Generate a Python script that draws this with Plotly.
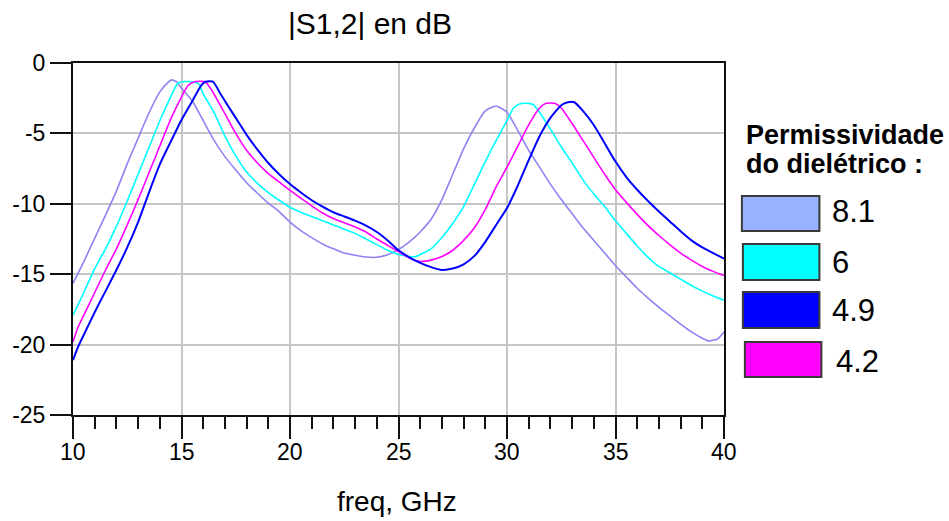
import plotly.graph_objects as go

# ---------------- data ----------------
freq_81 = [10, 10.5, 11, 11.5, 12, 12.5, 13, 13.5, 14, 14.3, 14.55, 14.8, 15, 15.5, 16, 16.5, 17, 17.5,
           18, 18.5, 19, 19.5, 20, 20.5, 21, 21.5, 22, 22.5, 23, 23.5, 24, 24.5, 25, 25.5, 26, 26.5,
           27, 27.5, 28, 28.5, 29, 29.5, 30, 30.5, 31, 31.5, 32, 32.5, 33, 33.5, 34, 34.5, 35, 35.5,
           36, 36.5, 37, 37.5, 38, 38.5, 39, 39.3, 39.7, 40]
s12_81 = [-15.65, -14.1, -12.45, -10.8, -9.1, -7.15, -5.35, -3.55, -2.05, -1.5, -1.2, -1.35, -1.8, -2.7,
          -4.1, -5.5, -6.65, -7.6, -8.5, -9.25, -9.95, -10.55, -11.3, -11.9, -12.4, -12.85, -13.2, -13.5,
          -13.65, -13.78, -13.8, -13.62, -13.25, -12.7, -12.0, -11.1, -9.7, -7.9, -6.1, -4.6, -3.4, -3.05,
          -3.5, -4.8, -6.2, -7.4, -8.6, -9.7, -10.7, -11.7, -12.6, -13.5, -14.4, -15.2, -16.0, -16.7,
          -17.35, -17.95, -18.55, -19.1, -19.55, -19.75, -19.6, -19.1]

freq_6 = [10, 10.5, 11, 11.5, 12, 12.5, 13, 13.5, 14, 14.5, 14.8, 15, 15.5, 15.8, 16, 16.5, 17, 17.5, 18,
          18.5, 19, 19.5, 20, 20.5, 21, 21.5, 22, 22.5, 23, 23.5, 24, 24.5, 25, 25.5, 25.8, 26, 26.5, 27,
          27.5, 28, 28.5, 29, 29.5, 30, 30.3, 30.6, 31, 31.2, 31.5, 32, 32.5, 33, 33.5, 34, 34.5, 35, 35.5,
          36, 36.5, 37, 37.5, 38, 38.5, 39, 39.5, 40]
s12_6 = [-17.9, -16.3, -14.6, -13.2, -11.6, -9.8, -7.9, -6.0, -4.1, -2.4, -1.5, -1.33, -1.33, -1.5, -2.2,
         -3.5, -5.2, -6.6, -7.75, -8.55, -9.2, -9.75, -10.25, -10.6, -10.9, -11.2, -11.5, -11.8, -12.1,
         -12.5, -12.9, -13.3, -13.6, -13.75, -13.75, -13.6, -13.2, -12.4, -11.4, -10.2, -8.6, -7.0, -5.5,
         -4.1, -3.2, -2.9, -2.87, -2.95, -3.5, -4.7, -5.95, -7.1, -8.3, -9.3, -10.2, -11.2, -12.1, -13.0,
         -13.8, -14.45, -14.9, -15.35, -15.8, -16.2, -16.55, -16.85]

freq_42 = [10, 10.25, 10.5, 11, 11.5, 12, 12.5, 13, 13.5, 14, 14.5, 15, 15.3, 15.6, 16.1, 16.4, 17, 17.5,
           18, 18.5, 19, 19.5, 20, 20.5, 21, 21.5, 22, 22.5, 23, 23.5, 24, 24.5, 25, 25.5, 26, 26.5, 27,
           27.5, 28, 28.5, 29, 29.5, 30, 30.5, 31, 31.5, 31.8, 32.2, 32.5, 33, 33.5, 34, 34.5, 35, 35.5,
           36, 36.5, 37, 37.5, 38, 38.5, 39, 39.5, 40]
s12_42 = [-19.8, -18.7, -17.9, -16.3, -14.7, -13.2, -11.5, -9.7, -7.8, -5.9, -4.0, -2.4, -1.6, -1.33,
          -1.33, -1.95, -3.6, -5.0, -6.2, -7.1, -7.85, -8.45, -9.05, -9.6, -10.15, -10.65, -11.05, -11.35,
          -11.65, -12.0, -12.5, -12.95, -13.4, -13.85, -14.1, -14.0, -13.75, -13.3, -12.6, -11.7, -10.4,
          -8.8, -7.4, -5.9, -4.4, -3.2, -2.86, -2.86, -3.2, -4.3, -5.5, -6.7, -7.9, -9.0, -9.9, -10.75,
          -11.55, -12.25, -12.9, -13.5, -14.0, -14.45, -14.8, -15.1]

freq_49 = [10, 10.25, 10.5, 11, 11.5, 12, 12.5, 13, 13.5, 14, 14.5, 15, 15.5, 15.9, 16.1, 16.45, 16.8, 17,
           17.5, 18, 18.5, 19, 19.5, 20, 20.5, 21, 21.5, 22, 22.5, 23, 23.5, 24, 24.5, 25, 25.5, 26, 26.5,
           27, 27.5, 28, 28.5, 29, 29.5, 30, 30.5, 31, 31.5, 32, 32.5, 32.8, 33.1, 33.5, 34, 34.5, 35,
           35.5, 36, 36.5, 37, 37.5, 38, 38.5, 39, 39.5, 40]
s12_49 = [-21.1, -20.1, -19.3, -17.7, -16.2, -14.7, -13.1, -11.3, -9.2, -7.2, -5.6, -4.05, -2.7, -1.6,
          -1.33, -1.33, -2.2, -2.7, -3.9, -5.1, -6.15, -7.1, -7.9, -8.6, -9.2, -9.75, -10.2, -10.6,
          -10.9, -11.2, -11.55, -12.0, -12.6, -13.3, -13.8, -14.2, -14.5, -14.7, -14.6, -14.3, -13.7,
          -12.7, -11.5, -10.3, -8.7, -6.9, -5.2, -3.9, -3.0, -2.79, -2.79, -3.4, -4.4, -5.7, -7.0, -8.1,
          -9.0, -9.8, -10.55, -11.25, -11.95, -12.6, -13.1, -13.5, -13.9]

series_names = ["8.1", "6", "4.9", "4.2"]
x_ticks = [10, 15, 20, 25, 30, 35, 40]
x_ticktext = ["10", "15", "20", "25", "30", "35", "40"]
y_ticks = [-25, -20, -15, -10, -5, 0]
y_ticktext = ["-25", "-20", "-15", "-10", "-5", "0"]

# ---------------- styles ----------------
line_colors = {"8.1": "#8c84f2", "6": "#00ffff", "4.9": "#0000ff", "4.2": "#ff00ff"}
box_colors = {"8.1": "#97b2fe", "6": "#00ffff", "4.9": "#0000ff", "4.2": "#ff00ff"}
FONT = "Liberation Sans, Arial, sans-serif"

W, H = 949, 521
L, R, T, B = 69, 724, 63, 415


def px(x):
    return (x - L) / (R - L)


def py(y):
    return (B - y) / (B - T)


fig = go.Figure()
data = {"8.1": (freq_81, s12_81), "6": (freq_6, s12_6), "4.2": (freq_42, s12_42), "4.9": (freq_49, s12_49)}
for name in ["8.1", "6", "4.2", "4.9"]:
    fx, fy = data[name]
    fig.add_trace(go.Scatter(x=fx, y=fy, mode="lines", name=name,
                             line=dict(color=line_colors[name], width=2 if name == "4.9" else 1.6,
                                       shape="spline", smoothing=0.5),
                             showlegend=False, hoverinfo="skip"))

axis_common = dict(showline=True, linecolor="#111", linewidth=2, mirror=True,
                   showgrid=True, gridcolor="#c6c6c6", gridwidth=2, zeroline=False,
                   ticks="outside", tickwidth=2, tickcolor="#111",
                   tickfont=dict(family=FONT, size=23, color="#000"))

fig.update_xaxes(range=[10, 40], tickvals=x_ticks, ticktext=x_ticktext, ticklen=22,
                 showticklabels=False,
                 minor=dict(dtick=1, tick0=10, ticklen=12, tickwidth=2, tickcolor="#111",
                            ticks="outside", showgrid=False),
                 **axis_common)
fig.update_yaxes(range=[-25, 0], tickvals=y_ticks, ticktext=y_ticktext, ticklen=21, **axis_common)

annotations = [
    dict(text="|S1,2| en dB", x=px(368), y=py(23), font=dict(size=30, family=FONT, color="#000")),
    dict(text="freq, GHz", x=px(395), y=py(501), font=dict(size=28, family=FONT, color="#000")),
    dict(text="<b>Permissividade</b>", x=px(744), y=py(135), xanchor="left",
         font=dict(size=27, family=FONT, color="#000")),
    dict(text="<b>do dielétrico :</b>", x=px(744), y=py(164), xanchor="left",
         font=dict(size=27, family=FONT, color="#000")),
]
# x tick labels placed under the data ticks
for v, t in zip(x_ticks, x_ticktext):
    annotations.append(dict(text=t, x=v, xref="x", y=py(452), xanchor="center",
                            font=dict(size=23, family=FONT, color="#000")))

shapes = []
legend_rows = [("8.1", 742, 196, 820, 231, 831, 211),
               ("6", 743, 244, 820, 280, 831, 262),
               ("4.9", 743, 292, 820, 328, 831, 310),
               ("4.2", 745, 342, 822, 377, 835, 361)]
for name, x0, y0, x1, y1, tx, ty in legend_rows:
    shapes.append(dict(type="rect", xref="paper", yref="paper", x0=px(x0), x1=px(x1),
                       y0=py(y1), y1=py(y0), fillcolor=box_colors[name],
                       line=dict(color="#3a3a3a", width=2), layer="above"))
    annotations.append(dict(text=name, x=px(tx), y=py(ty), xanchor="left",
                            font=dict(size=31, family=FONT, color="#000")))

for a in annotations:
    a.setdefault("xanchor", "center")
    a.setdefault("xref", "paper")
    a.update(yref="paper", yanchor="middle", showarrow=False)

fig.update_layout(width=W, height=H, margin=dict(l=L, r=W - R, t=T, b=H - B, pad=0),
                  plot_bgcolor="white", paper_bgcolor="white",
                  annotations=annotations, shapes=shapes)

fig.write_html("out.html")
